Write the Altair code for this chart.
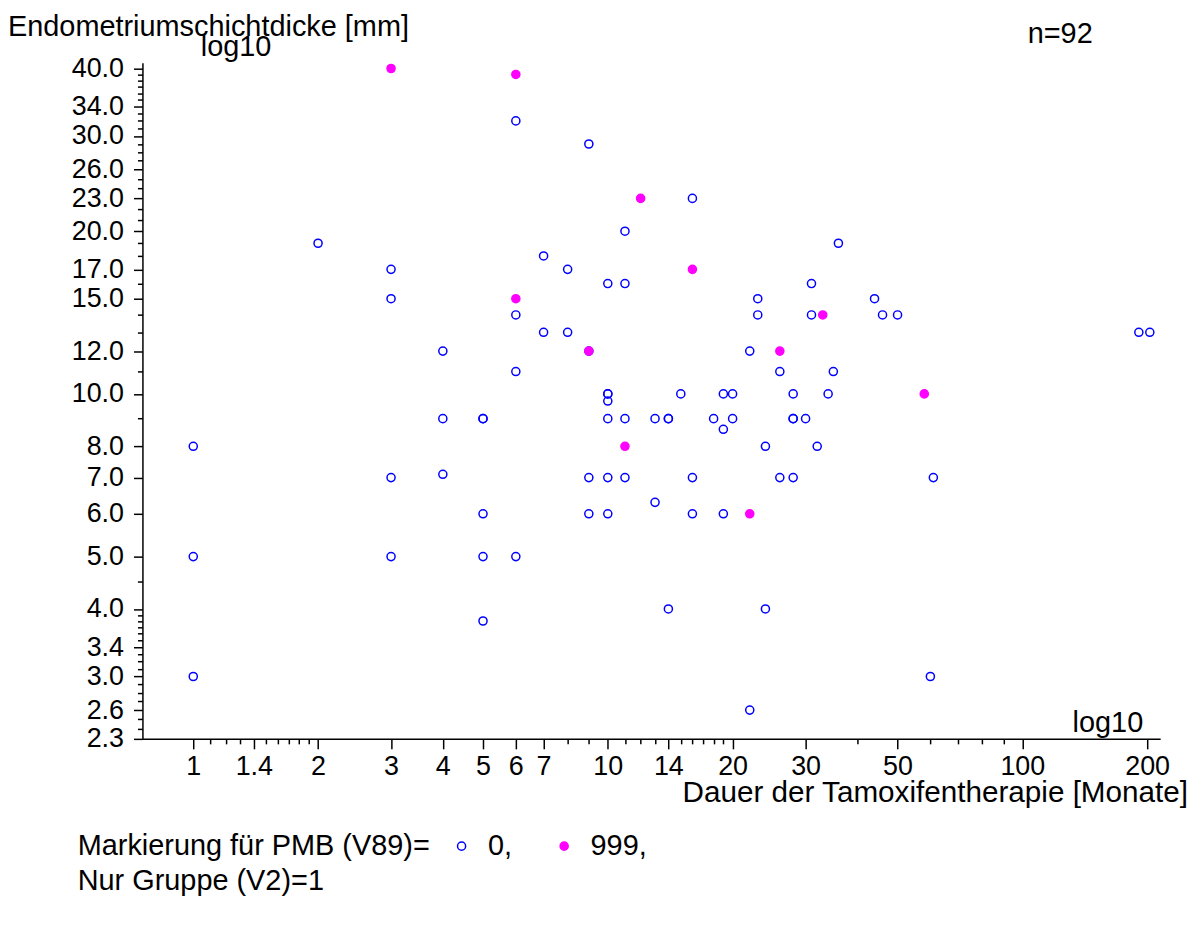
import altair as alt
import pandas as pd

FONT = "Liberation Sans"

# ---- data ----
open_x = [6, 9, 16, 2, 11, 36, 7, 3, 8, 10, 11, 31, 3, 23, 44, 6, 23, 31, 46, 50,
          7, 8, 191, 203, 4, 9, 22, 6, 26, 35, 10, 10, 10, 15, 19, 20, 28, 34,
          4, 5, 5, 10, 11, 13, 14, 14, 18, 20, 28, 28, 30, 19, 1, 24, 32,
          3, 4, 9, 10, 11, 16, 26, 28, 61, 13, 5, 9, 10, 16, 19,
          1, 3, 5, 6, 14, 24, 5, 1, 60, 22]
open_y = [32, 29, 23, 19, 20, 19, 18, 17, 17, 16, 16, 16, 15, 15, 15, 14, 14, 14, 14, 14,
          13, 13, 13, 13, 12, 12, 12, 11, 11, 11, 10, 10, 9.7, 10, 10, 10, 10, 10,
          9, 9, 9, 9, 9, 9, 9, 9, 9, 9, 9, 9, 9, 8.6, 8, 8, 8,
          7, 7.1, 7, 7, 7, 7, 7, 7, 7, 6.3, 6, 6, 6, 6, 6,
          5, 5, 5, 5, 4, 4, 3.8, 3, 3, 2.6]
pmb_x = [3, 6, 12, 16, 6, 33, 9, 26, 58, 11, 22]
pmb_y = [40, 39, 23, 17, 15, 14, 12, 12, 10, 8, 6]

x_major = [1, 1.4, 2, 3, 4, 5, 6, 7, 10, 14, 20, 30, 50, 100, 200]
x_minor = [1.1, 1.2, 1.3, 1.5, 1.6, 1.7, 1.8, 1.9, 8, 9, 11, 12, 13,
           15, 16, 17, 18, 19, 40, 60, 70, 80, 90]
y_major = [2.3, 2.6, 3.0, 3.4, 4.0, 5.0, 6.0, 7.0, 8.0, 10.0, 12.0, 15.0,
           17.0, 20.0, 23.0, 26.0, 30.0, 34.0, 40.0]
y_minor = [2.4, 2.5, 2.7, 2.8, 2.9, 3.1, 3.2, 3.3, 3.5, 3.6, 3.7, 3.8, 3.9,
           4.5, 9, 11, 13, 14, 16, 18, 19, 21, 22, 24, 25, 27, 28, 29,
           31, 32, 33, 35, 36, 37, 38, 39]

df = pd.DataFrame({
    "dauer": open_x + pmb_x,
    "dicke": open_y + pmb_y,
    "pmb": ["0"] * len(open_x) + ["999"] * len(pmb_x),
})

W, H = 1022, 679
TICK_FS = 27
TEXT_FS = 29


def arr(v):
    return "[" + ",".join(repr(float(a)) for a in v) + "]"


x_axis = alt.Axis(
    values=x_major + x_minor,
    tickSize={"condition": {"test": f"indexof({arr(x_major)}, datum.value) >= 0", "value": 10}, "value": 5},
    labelExpr=f"indexof({arr(x_major)}, datum.value) >= 0 ? format(datum.value, '~g') : ''",
    labelFontSize=TICK_FS, labelFont=FONT, labelColor="black", labelPadding=5,
    labelOverlap=False, labelFlush=False, labelBound=False,
    domainColor="black", domainWidth=1.5, tickColor="black", tickWidth=1.5,
    grid=False, title=None,
)
y_axis = alt.Axis(
    values=y_major + y_minor,
    tickSize={"condition": {"test": f"indexof({arr(y_major)}, datum.value) >= 0", "value": 9}, "value": 5},
    labelExpr=f"indexof({arr(y_major)}, datum.value) >= 0 ? format(datum.value, '.1f') : ''",
    labelFontSize=TICK_FS, labelFont=FONT, labelColor="black", labelPadding=10,
    labelOverlap=False, labelFlush=False, labelBound=False, labelBaseline="middle",
    domainColor="black", domainWidth=1.5, tickColor="black", tickWidth=1.5,
    grid=False, title=None,
)

legend = alt.Legend(
    orient="none", legendX=-65, legendY=772, direction="horizontal",
    title="Markierung für PMB (V89)=", titleOrient="left", titlePadding=17,
    titleFont=FONT, titleFontSize=TEXT_FS, titleFontWeight="normal", titleColor="black",
    titleBaseline="middle", titleLimit=1000,
    labelFont=FONT, labelFontSize=TEXT_FS, labelColor="black", labelOffset=12,
    labelExpr="datum.label + ','", labelLimit=400,
    symbolType="circle", symbolSize=66, symbolStrokeWidth=1.5,
    columnPadding=37, padding=0,
)

points = alt.Chart(df).mark_point(
    shape="circle", size=66, strokeWidth=1.5, opacity=1, fillOpacity=1
).encode(
    x=alt.X("dauer:Q", scale=alt.Scale(type="log", domain=[0.754, 215], nice=False, zero=False), axis=x_axis),
    y=alt.Y("dicke:Q", scale=alt.Scale(type="log", domain=[2.3, 41], nice=False, zero=False), axis=y_axis),
    stroke=alt.Stroke("pmb:N", scale=alt.Scale(domain=["0", "999"], range=["#0000FF", "#FF00FF"]), legend=legend),
    fill=alt.Fill("pmb:N", scale=alt.Scale(domain=["0", "999"], range=["transparent", "#FF00FF"]), legend=legend),
)

ann = pd.DataFrame({"a": [0]})


def txt(s, x, y, align="left", size=TEXT_FS):
    return alt.Chart(ann).mark_text(
        text=s, align=align, baseline="alphabetic", fontSize=size, font=FONT, color="black"
    ).encode(x=alt.value(x), y=alt.value(y))


layers = [
    points,
    txt("Endometriumschichtdicke [mm]", -135, -27),
    txt("log10", 94, -7, align="center"),
    txt("n=92", 889, -20),
    txt("log10", 1005, 672, align="right"),
    txt("Dauer der Tamoxifentherapie [Monate]", 1050, 742, align="right", size=29.8),
    txt("Nur Gruppe (V2)=1", -65, 831),
]

chart = alt.layer(*layers).properties(
    width=W, height=H,
    autosize=alt.AutoSizeParams(type="none"),
    padding={"left": 135, "top": 53, "right": 36, "bottom": 190},
).configure_view(stroke=None)

chart.save("out.html", embed_options={"renderer": "svg", "actions": False})
